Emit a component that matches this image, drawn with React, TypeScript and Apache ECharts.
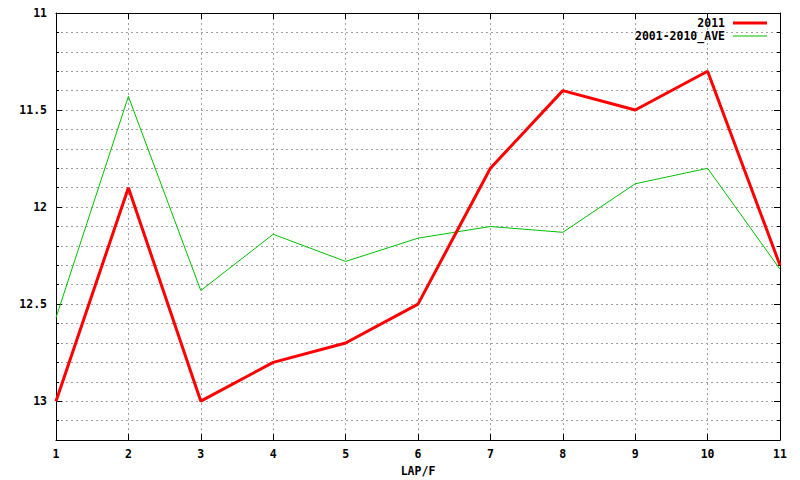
import React, { useEffect, useRef } from "react";
import * as echarts from "echarts";

const laps = [1, 2, 3, 4, 5, 6, 7, 8, 9, 10, 11];
const y2011 = [13.0, 11.9, 13.0, 12.8, 12.7, 12.5, 11.8, 11.4, 11.5, 11.3, 12.3];
const yAve = [12.57, 11.43, 12.43, 12.14, 12.28, 12.16, 12.1, 12.13, 11.88, 11.8, 12.32];
const seriesNames = ["2011", "2001-2010_AVE"];
const xName = "LAP/F";

const FONT = "DejaVu Sans Mono";

export default function App() {
  const ref = useRef<HTMLDivElement>(null);
  useEffect(() => {
    if (!ref.current) return;
    const chart = echarts.init(ref.current, null, { renderer: "svg" });
    const yBase = {
      type: "value",
      min: 11,
      max: 13.2,
      inverse: true,
      axisLabel: { show: false },
      splitLine: { show: false },
      axisLine: { show: false },
      axisTick: { show: true, inside: true, length: 3, lineStyle: { color: "#000", width: 1 } },
    };
    const fmt = (v: number) => {
      const r = Math.round(v * 2) / 2;
      if (Math.abs(v - r) < 1e-6 && v <= 13.0001) return String(r);
      return "";
    };
    chart.setOption({
      animation: false,
      backgroundColor: "#fff",
      grid: {
        left: 56,
        width: 724,
        top: 13,
        height: 427,
        containLabel: false,
        outerBoundsMode: "none",
      },
      legend: {
        data: [
          { name: seriesNames[0], icon: "path://M0,0 L34,0 L34,3 L0,3 Z" },
          { name: seriesNames[1], icon: "path://M0,0 L34,0 L34,1 L0,1 Z" },
        ],
        orient: "vertical",
        align: "right",
        right: 33,
        top: 17,
        padding: 0,
        itemWidth: 34,
        itemHeight: 12,
        itemGap: 1,
        textStyle: {
          fontFamily: FONT,
          fontWeight: "bold",
          fontSize: 11.5,
          lineHeight: 12,
          color: "#000",
          padding: [0, 3, 0, 0],
        },
      },
      xAxis: [
        {
          type: "value",
          position: "bottom",
          min: 1,
          max: 11,
          interval: 1,
          name: xName,
          nameLocation: "middle",
          nameGap: 24,
          nameTextStyle: { fontFamily: FONT, fontWeight: "bold", fontSize: 11.5, color: "#000" },
          axisLine: { show: true, lineStyle: { color: "#000", width: 1 } },
          axisTick: { show: true, inside: true, length: 6, lineStyle: { color: "#000" } },
          axisLabel: { fontFamily: FONT, fontWeight: "bold", fontSize: 11.5, color: "#000", margin: 8 },
          splitLine: { show: true, lineStyle: { color: "#a0a0a0", type: [2, 3], width: 1 } },
        },
        {
          type: "value",
          position: "top",
          min: 1,
          max: 11,
          interval: 1,
          axisLine: { show: true, lineStyle: { color: "#000", width: 1 } },
          axisTick: { show: true, inside: true, length: 6, lineStyle: { color: "#000" } },
          axisLabel: { show: false },
          splitLine: { show: false },
        },
      ],
      yAxis: [
        {
          ...yBase,
          position: "left",
          interval: 0.1,
          axisLine: { show: true, lineStyle: { color: "#000", width: 1 } },
          axisLabel: {
            show: true,
            formatter: fmt,
            fontFamily: FONT,
            fontWeight: "bold",
            fontSize: 11.5,
            color: "#000",
            margin: 9,
            showMaxLabel: false,
          },
          splitLine: { show: true, lineStyle: { color: "#a0a0a0", type: [2, 3], width: 1 } },
        },
        { ...yBase, position: "left", interval: 0.5, axisTick: { ...yBase.axisTick, length: 6 } },
        {
          ...yBase,
          position: "right",
          interval: 0.1,
          axisLine: { show: true, lineStyle: { color: "#000", width: 1 } },
        },
        { ...yBase, position: "right", interval: 0.5, axisTick: { ...yBase.axisTick, length: 6 } },
      ],
      series: [
        {
          name: seriesNames[0],
          type: "line",
          xAxisIndex: 0,
          yAxisIndex: 0,
          symbol: "none",
          data: laps.map((x, i) => [x, y2011[i]]),
          lineStyle: { color: "#ff0000", width: 3 },
          itemStyle: { color: "#ff0000" },
          z: 3,
        },
        {
          name: seriesNames[1],
          type: "line",
          xAxisIndex: 0,
          yAxisIndex: 0,
          symbol: "none",
          data: laps.map((x, i) => [x, yAve[i]]),
          lineStyle: { color: "#00c000", width: 1 },
          itemStyle: { color: "#00c000" },
          z: 2,
        },
      ],
    });
    return () => chart.dispose();
  }, []);
  return (
    <div
      ref={ref}
      style={{ position: "fixed", left: 0, top: 0, width: 800, height: 480, background: "#fff" }}
    />
  );
}
